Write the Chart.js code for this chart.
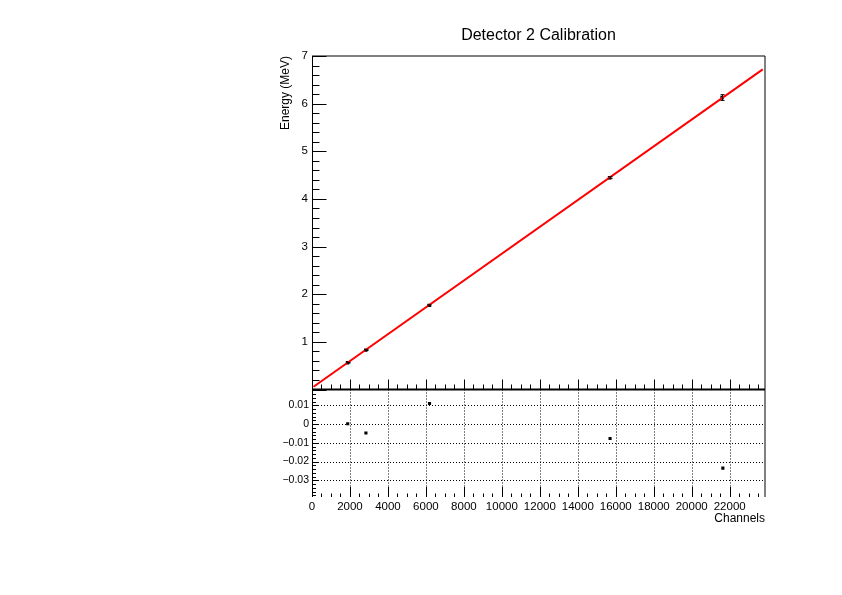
<!DOCTYPE html>
<html>
<head>
<meta charset="utf-8">
<script src="https://cdn.jsdelivr.net/npm/chart.js@4.4.1/dist/chart.umd.min.js"></script>
<style>
  html, body { margin: 0; padding: 0; background: #fff; }
  #wrap { position: relative; width: 842px; height: 595px; }
  #wrap canvas { position: absolute; left: 0; top: 0; }
</style>
</head>
<body>
<div id="wrap">
  <canvas id="fitChart" width="842" height="595"></canvas>
  <canvas id="resChart" width="842" height="595"></canvas>
</div>
<script>
// calibration points
const channels = [1870, 2830, 6170, 15670, 21600];
const energies = [0.562, 0.826, 1.765, 4.445, 6.128];
const energyErr = [0.008, 0.01, 0.012, 0.02, 0.06];

// linear fit, drawn between its two end points
const fitChannels = [80, 23740];
const fitEnergies = [0.057, 6.72];

// residuals of the fit
const resChannels = [1880, 2840, 6190, 15700, 21640];
const residuals = [0.0002, -0.0047, 0.011, -0.0077, -0.0235];

// tick labels
const channelTicks = [0, 2000, 4000, 6000, 8000, 10000, 12000, 14000, 16000, 18000, 20000, 22000];
const energyTicks = [1, 2, 3, 4, 5, 6, 7];
const residualTicks = [0.01, 0, -0.01, -0.02, -0.03];
const residualLabels = ["0.01", "0", "\u22120.01", "\u22120.02", "\u22120.03"];

Chart.defaults.font.family = "'Liberation Sans', Arial, Helvetica, sans-serif";
Chart.defaults.color = "#000";

const X_MAX = 23860;

function toPoints(xs, ys) {
    return xs.map((x, i) => ({ x: x, y: ys[i] }));
}

function line(ctx, x1, y1, x2, y2) {
    ctx.beginPath();
    ctx.moveTo(x1, y1);
    ctx.lineTo(x2, y2);
    ctx.stroke();
}

function stepValues(min, max, step) {
    const out = [];
    for (let k = Math.ceil(min / step - 1e-9); k * step <= max + 1e-9; k++) {
        out.push(k * step);
    }
    return out;
}

// ROOT style frame: inward ticks, optional dotted grid
const frameDecor = {
    id: "frameDecor",
    afterDraw(chart, args, o) {
        const { ctx, chartArea: a, scales: { x, y } } = chart;
        const left = Math.floor(a.left) + 0.5;
        ctx.save();
        ctx.strokeStyle = "#000";
        ctx.lineWidth = 1;

        if (o.grid) {
            ctx.setLineDash([1, 2]);
            stepValues(y.min, y.max, o.yMajor).forEach(v => {
                const py = Math.round(y.getPixelForValue(v)) + 0.5;
                line(ctx, a.left, py, a.right, py);
            });
            stepValues(x.min, x.max, o.xMajor).forEach(v => {
                if (v === 0) return;
                const px = Math.round(x.getPixelForValue(v)) + 0.5;
                line(ctx, px, a.top, px, a.bottom);
            });
            ctx.setLineDash([]);
        }

        // y ticks on the left axis
        stepValues(y.min, y.max, o.yMinor).forEach(v => {
            const py = Math.round(y.getPixelForValue(v)) + 0.5;
            line(ctx, left, py, left + o.yMinorLen, py);
        });
        stepValues(y.min, y.max, o.yMajor).forEach(v => {
            const py = Math.round(y.getPixelForValue(v)) + 0.5;
            line(ctx, left, py, left + o.yMajorLen, py);
        });

        // x ticks on the bottom edge, pointing up
        stepValues(x.min, x.max, o.xMinor).forEach(v => {
            const px = Math.round(x.getPixelForValue(v)) + 0.5;
            line(ctx, px, a.bottom, px, a.bottom - o.xMinorLen);
        });
        stepValues(x.min, x.max, o.xMajor).forEach(v => {
            const px = Math.round(x.getPixelForValue(v)) + 0.5;
            line(ctx, px, a.bottom, px, a.bottom - o.xMajorLen);
        });

        // frame
        line(ctx, left, a.top, left, a.bottom);
        line(ctx, a.left, a.top, a.right, a.top);
        line(ctx, a.right, a.top, a.right, a.bottom);
        if (o.bottomLine) {
            ctx.lineWidth = o.bottomLine;
            line(ctx, a.left, a.bottom, a.right, a.bottom);
        }
        if (o.topLine) {
            ctx.lineWidth = o.topLine;
            line(ctx, a.left, a.top, a.right, a.top);
        }
        ctx.restore();
    }
};

const errorBars = {
    id: "errorBars",
    afterDatasetsDraw(chart) {
        const { ctx, scales: { x, y } } = chart;
        ctx.save();
        ctx.strokeStyle = "#000";
        ctx.lineWidth = 1;
        channels.forEach((c, i) => {
            const px = Math.round(x.getPixelForValue(c)) + 0.5;
            const y1 = y.getPixelForValue(energies[i] - energyErr[i]);
            const y2 = y.getPixelForValue(energies[i] + energyErr[i]);
            line(ctx, px, y1, px, y2);
            line(ctx, px - 2, y1, px + 2, y1);
            line(ctx, px - 2, y2, px + 2, y2);
        });
        ctx.restore();
    }
};

const fitChart = new Chart(document.getElementById("fitChart"), {
    type: "scatter",
    data: {
        datasets: [
            {
                type: "line",
                data: toPoints(fitChannels, fitEnergies),
                borderColor: "#ff0000",
                borderWidth: 2,
                pointRadius: 0,
                fill: false,
                tension: 0,
            },
            {
                data: toPoints(channels, energies),
                pointStyle: "rect",
                pointRadius: 2.4,
                borderWidth: 0,
                backgroundColor: "#000",
                borderColor: "#000",
            },
        ],
    },
    options: {
        responsive: false,
        animation: false,
        devicePixelRatio: 1,
        layout: { padding: { left: 272, right: 77, top: 0, bottom: 205.5 } },
        plugins: {
            legend: { display: false },
            tooltip: { enabled: false },
            title: {
                display: true,
                text: "Detector 2 Calibration",
                fullSize: false,
                color: "#000",
                font: { size: 16, weight: "normal" },
                padding: { top: 26, bottom: 10.8 },
            },
            frameDecor: {
                xMajor: 2000, xMinor: 500, xMajorLen: 10, xMinorLen: 5,
                yMajor: 1, yMinor: 0.2, yMajorLen: 14, yMinorLen: 7,
                grid: false,
            },
        },
        scales: {
            x: {
                type: "linear",
                min: 0,
                max: X_MAX,
                display: false,
            },
            y: {
                type: "linear",
                min: 0,
                max: 7,
                afterBuildTicks: s => { s.ticks = energyTicks.map(v => ({ value: v })); },
                afterFit: s => { s.width = 40; },
                grid: { display: false, drawTicks: false },
                border: { display: false },
                ticks: { padding: 4, font: { size: 11.5 }, color: "#000", callback: v => String(v) },
                title: {
                    display: true,
                    text: "Energy (MeV)",
                    align: "end",
                    color: "#000",
                    font: { size: 12 },
                    padding: { top: 6, bottom: 0 },
                },
            },
        },
    },
    plugins: [frameDecor, errorBars],
});

const resChart = new Chart(document.getElementById("resChart"), {
    type: "scatter",
    data: {
        datasets: [
            {
                data: toPoints(resChannels, residuals),
                pointStyle: "rect",
                pointRadius: 2.2,
                borderWidth: 0,
                backgroundColor: "#000",
                borderColor: "#000",
            },
        ],
    },
    options: {
        responsive: false,
        animation: false,
        devicePixelRatio: 1,
        layout: { padding: { left: 272, right: 77, top: 389.5, bottom: 0 } },
        plugins: {
            legend: { display: false },
            tooltip: { enabled: false },
            frameDecor: {
                xMajor: 2000, xMinor: 500, xMajorLen: 10, xMinorLen: 3.5,
                yMajor: 0.01, yMinor: 0.002, yMajorLen: 6, yMinorLen: 3.5,
                grid: true,
                topLine: 2,
            },
        },
        scales: {
            x: {
                type: "linear",
                min: 0,
                max: X_MAX,
                afterBuildTicks: s => { s.ticks = channelTicks.map(v => ({ value: v })); },
                afterFit: s => { s.height = 98; },
                grid: { display: false, drawTicks: false },
                border: { display: false },
                ticks: {
                    padding: 3,
                    font: { size: 11.5 },
                    color: "#000",
                    autoSkip: false,
                    maxRotation: 0,
                    callback: v => String(v),
                },
                title: {
                    display: true,
                    text: "Channels",
                    align: "end",
                    color: "#000",
                    font: { size: 12 },
                    padding: { top: 0, bottom: 69 },
                },
            },
            y: {
                type: "linear",
                min: -0.0389,
                max: 0.0185,
                afterBuildTicks: s => { s.ticks = residualTicks.map(v => ({ value: v })); },
                afterFit: s => { s.width = 40; },
                grid: { display: false, drawTicks: false },
                border: { display: false },
                ticks: {
                    padding: 3,
                    font: { size: 10.5 },
                    color: "#000",
                    callback: (v, i) => residualLabels[i],
                },
            },
        },
    },
    plugins: [frameDecor],
});
</script>
</body>
</html>
